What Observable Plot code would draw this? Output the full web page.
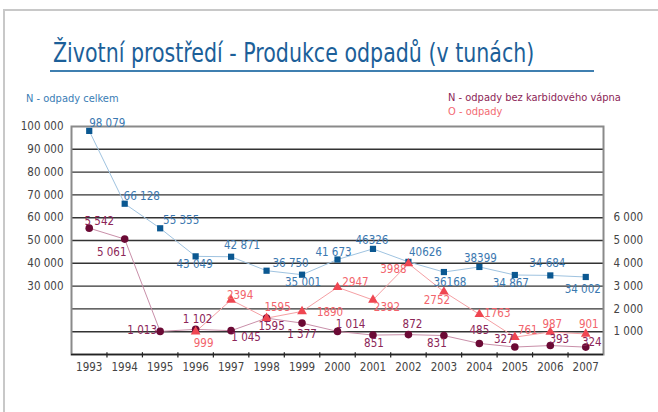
<!DOCTYPE html>
<html><head><meta charset="utf-8">
<script src="https://cdn.jsdelivr.net/npm/d3@7"></script>
<script src="https://cdn.jsdelivr.net/npm/@observablehq/plot@0.6"></script>
<style>
body{margin:0;background:#fff;width:658px;height:412px;overflow:hidden;position:relative;font-family:"DejaVu Sans Condensed","Liberation Sans Narrow",sans-serif}
#border{position:absolute;left:3px;top:9px;width:700px;height:500px;border-left:2px solid #c8c8c8;border-top:2px solid #c8c8c8}
#title{position:absolute;left:53px;top:40px;font-size:26px;line-height:1;color:#1c5f99;white-space:nowrap;transform:scaleX(0.88);transform-origin:0 0}
#rule{position:absolute;left:50px;top:70px;width:544px;height:2px;background:#3f7fb0}
.leg{position:absolute;font-size:11px;line-height:1;white-space:nowrap}
#chart{position:absolute;left:0;top:112px}
</style></head>
<body>
<div id="border"></div>
<div id="title">Životní prostředí - Produkce odpadů (v tunách)</div>
<div id="rule"></div>
<div class="leg" style="left:26px;top:93px;color:#3a7db5">N - odpady celkem</div>
<div class="leg" style="left:448px;top:92px;color:#8c2557">N - odpady bez karbidového vápna</div>
<div class="leg" style="left:448px;top:106px;color:#f36b72">O - odpady</div>
<div id="chart"></div>
<script>
const years = [1993,1994,1995,1996,1997,1998,1999,2000,2001,2002,2003,2004,2005,2006,2007];
const totalWaste = [98079,66128,55355,43049,42871,36750,35001,41673,46326,40626,36168,38399,34867,34684,34002];
const totalLabels = ["98 079","66 128","55 355","43 049","42 871","36 750","35 001","41 673","46326","40626","36168","38399","34 867","34 684","34 002"];
const noCarbideWaste = [5542,5061,1013,1102,1045,1595,1377,1014,851,872,831,485,327,393,324];
const noCarbideLabels = ["5 542","5 061","1 013","1 102","1 045","1595","1 377","1 014","851","872","831","485","327","393","324"];
const otherYears = [1996,1997,1998,1999,2000,2001,2002,2003,2004,2005,2006,2007];
const otherWaste = [999,2394,1595,1890,2947,2392,3988,2752,1763,761,987,901];
const otherLabels = ["999","2394","1595","1890","2947","2392","3988","2752","1763","761","987","901"];
const leftTicks = [30000,40000,50000,60000,70000,80000,90000,100000];
const rightTicks = [1000,2000,3000,4000,5000,6000];
const gridValues = [10000,20000,30000,40000,50000,60000,70000,80000,90000];

// label placement (pixel offsets of each value label from its marker)
const totalOffsets = [[18,-8],[17,-7],[21,-8],[-1,8],[11,-11],[24,-7],[1,8],[-4,-7],[-1,-9],[17,-10],[6,10],[1,-9],[-4,8],[-3,-12],[-3,12]];
const noCarbideOffsets = [[10,-7],[-13,13],[-18,-1],[2,-10],[15,7],[5,8],[0,11],[13,-7],[1,8],[4,-10],[-7,8],[0,-13],[-11,-8],[9,-6],[6,-5]];
const otherOffsets = [[8,12],[9,-5],[11,-11],[28,1],[18,-5],[14,7],[-15,6],[-7,9],[18,-1],[13,-7],[2,-8],[3,-10]];

const ratio = 10; // right axis = left axis / 10
const fmt = d => d3.format(",")(d).replace(/,/g, " ");

const W = 658, H = 270, ML = 71, MR = 55, MT = 14, MB = 28;
const bw = (W - ML - MR) / years.length;

const total = years.map((y, i) => ({year: y, v: totalWaste[i], label: totalLabels[i], dx: totalOffsets[i][0], dy: totalOffsets[i][1]}));
const noCarb = years.map((y, i) => ({year: y, v: noCarbideWaste[i] * ratio, label: noCarbideLabels[i], dx: noCarbideOffsets[i][0], dy: noCarbideOffsets[i][1]}));
const other = otherYears.map((y, i) => ({year: y, v: otherWaste[i] * ratio, label: otherLabels[i], dx: otherOffsets[i][0], dy: otherOffsets[i][1]}));

function labels(data, fill) {
  return data.map(d => Plot.text([d], {x: "year", y: "v", text: "label", dx: d.dx, dy: d.dy, fill, fontSize: 11.5, textAnchor: "middle", lineAnchor: "middle"}));
}

const chart = Plot.plot({
  width: W, height: H, marginLeft: ML, marginRight: MR, marginTop: MT, marginBottom: MB,
  x: {type: "band", domain: years, padding: 0, round: false, axis: null, label: null},
  y: {domain: [0, 100000], axis: null, label: null},
  style: {fontFamily: "'DejaVu Sans Condensed','Liberation Sans Narrow',sans-serif", fontSize: "11.5px", color: "#444", background: "transparent"},
  marks: [
    Plot.ruleY(gridValues, {stroke: "#333", strokeWidth: 1.4}),
    Plot.frame({stroke: "#8a8a8a", strokeWidth: 2}),
    Plot.ruleY([0], {stroke: "#222", strokeWidth: 1.5}),
    Plot.ruleX(years.slice(1), {x: d => d, dx: -bw / 2, y1: -1500, y2: 800, stroke: "#222", strokeWidth: 1.2}),
    Plot.axisX(years, {tickSize: 0, tickPadding: 8, tickFormat: d => String(d), label: null, fill: "#444", fontSize: 11.5}),
    Plot.axisY(leftTicks, {anchor: "left", tickSize: 0, tickPadding: 8, tickFormat: fmt, label: null, fill: "#444", fontSize: 11.5}),
    Plot.axisY(rightTicks.map(v => v * ratio), {anchor: "right", tickSize: 0, tickPadding: 10, tickFormat: d => fmt(d / ratio), label: null, fill: "#444", fontSize: 11.5}),
    Plot.line(total, {x: "year", y: "v", stroke: "#9fc3e0", strokeWidth: 1}),
    Plot.line(noCarb, {x: "year", y: "v", stroke: "#c98fa9", strokeWidth: 1}),
    Plot.line(other, {x: "year", y: "v", stroke: "#f5a0a4", strokeWidth: 1}),
    Plot.dot(total, {x: "year", y: "v", symbol: "square", r: 3.5, fill: "#0b5891"}),
    Plot.dot(noCarb, {x: "year", y: "v", r: 3.8, fill: "#6b0a35"}),
    Plot.dot(other, {x: "year", y: "v", symbol: "triangle", r: 3.6, fill: "#ef4651"}),
    ...labels(total, "#3b78b0"),
    ...labels(noCarb, "#8c2557"),
    ...labels(other, "#f2646c")
  ]
});
document.getElementById("chart").appendChild(chart);
</script>
</body></html>
